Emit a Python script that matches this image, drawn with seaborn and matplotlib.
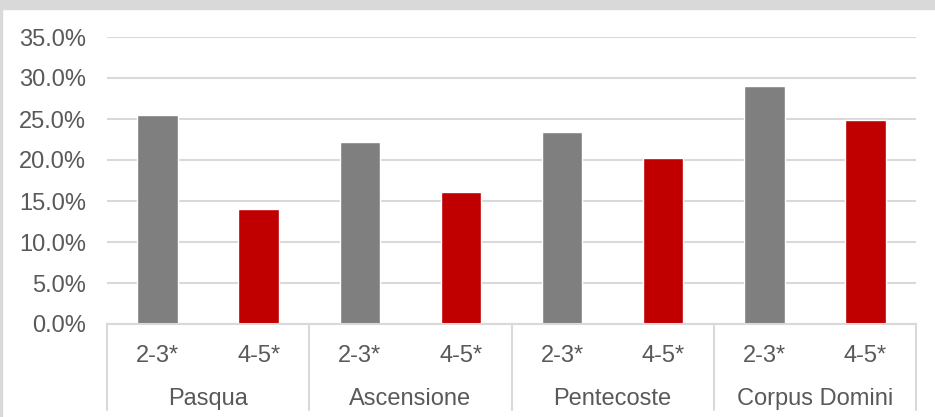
import numpy as np
import pandas as pd
import seaborn as sns
import matplotlib.pyplot as plt
from matplotlib.ticker import PercentFormatter
from matplotlib.patches import Rectangle
from matplotlib.lines import Line2D

holidays = ['Pasqua', 'Ascensione', 'Pentecoste', 'Corpus Domini']
groups = ['2-3*', '4-5*']
vals_23 = [0.255, 0.222, 0.234, 0.290]
vals_45 = [0.140, 0.161, 0.202, 0.249]

df = pd.DataFrame({
    'festa': holidays * 2,
    'gruppo': [groups[0]] * 4 + [groups[1]] * 4,
    'quota': vals_23 + vals_45,
})

sns.set_style('white')
plt.rcParams['font.family'] = ['Liberation Sans', 'DejaVu Sans']
txt = '#595959'
grid = '#D9D9D9'

W, H = 935, 417
fig = plt.figure(figsize=(W / 100, H / 100), dpi=100)
ax = fig.add_axes([107 / W, 1 - 324 / H, (916 - 107) / W, (324 - 37) / H])

sns.barplot(data=df, x='festa', y='quota', hue='gruppo', order=holidays,
            hue_order=groups, palette=['#7F7F7F', '#C00000'], width=1.0,
            gap=0.6, saturation=1, legend=False, ax=ax)

ax.set_ylim(0, 0.35)
ax.set_xlim(-0.5, 3.5)
ax.set_yticks(np.arange(0, 0.351, 0.05))
ax.yaxis.set_major_formatter(PercentFormatter(1, decimals=1))
ax.yaxis.grid(True, color=grid, linewidth=1.5)
ax.set_axisbelow(True)
for s in ['top', 'right', 'left']:
    ax.spines[s].set_visible(False)
ax.spines['bottom'].set_color(grid)
ax.spines['bottom'].set_linewidth(1.5)
ax.tick_params(axis='y', length=0, pad=15, labelsize=17, labelcolor=txt)
ax.set_xlabel('')
ax.set_ylabel('')

# sub-category labels
pos = [i + d for i in range(4) for d in (-0.25, 0.25)]
ax.set_xticks(pos)
ax.set_xticklabels(groups * 4)
ax.tick_params(axis='x', length=0, pad=15, labelsize=17, labelcolor=txt)

# group labels and separators
tr = ax.get_xaxis_transform()
for i, h in enumerate(holidays):
    ax.text(i, -0.263, h, transform=tr, ha='center', va='center',
            fontsize=17, color=txt)
for xs in np.arange(-0.5, 4.0, 1.0):
    ax.add_line(Line2D([xs, xs], [0, -0.30], transform=tr, color=grid,
                       linewidth=1.5, clip_on=False))

# outer frame bits
fig.patches.append(Rectangle((0, 1 - 8.5 / H), 1, 8.5 / H, transform=fig.transFigure,
                             color=grid, zorder=0))
fig.patches.append(Rectangle((0, 0), 2 / W, 1, transform=fig.transFigure,
                             color=grid, zorder=0))

fig.savefig('out.png', dpi=100)
